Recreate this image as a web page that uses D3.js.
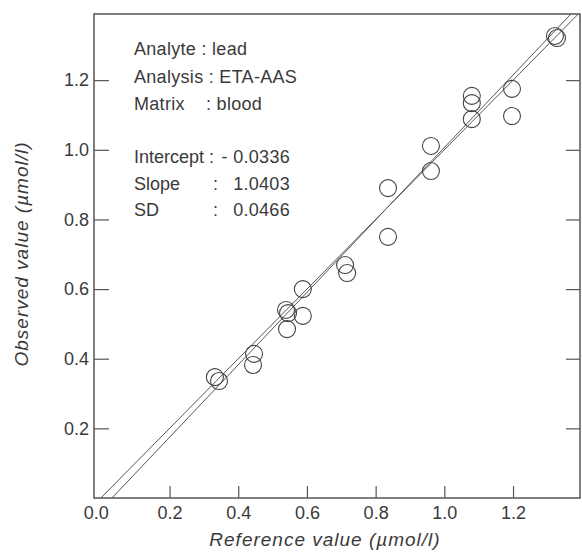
<!DOCTYPE html>
<html>
<head>
<meta charset="utf-8">
<script src="https://cdn.jsdelivr.net/npm/d3@7"></script>
<style>
body{margin:0;background:#fff;}
svg{display:block;font-family:"Liberation Sans",Arial,sans-serif;}
.tick text{font-size:18px;fill:#3a3a3a;}
</style>
</head>
<body>
<svg id="chart" width="582" height="552"></svg>
<script>
var refValues=[0.332,0.344,0.446,0.443,0.539,0.545,0.542,0.588,0.588,0.711,0.717,0.836,0.836,0.961,0.961,1.080,1.080,1.080,1.197,1.197,1.322,1.328];
var obsValues=[0.347,0.336,0.414,0.382,0.540,0.531,0.485,0.600,0.523,0.669,0.646,0.890,0.750,1.011,0.939,1.155,1.134,1.088,1.175,1.097,1.327,1.321];
var xTicks=[0,0.2,0.4,0.6,0.8,1.0,1.2];
var yTicks=[0.2,0.4,0.6,0.8,1.0,1.2];
var infoLines=["Analyte : lead","Analysis : ETA-AAS","Matrix    : blood"];
var statLabels=["Intercept","Slope","SD"];
var statValues=["- 0.0336","1.0403","0.0466"];
var intercept=-0.0336, slope=1.0403;

var svg=d3.select("#chart");
var plotL=94,plotR=580,plotT=14,plotB=498;

var x=d3.scaleLinear().domain([-0.02,1.395]).range([plotL,plotR]);
var y=d3.scaleLinear().domain([0,1.39]).range([plotB,plotT]);
var fmt=d3.format(".1f");

svg.append("clipPath").attr("id","plotClip")
	.append("rect").attr("x",plotL).attr("y",plotT).attr("width",plotR-plotL).attr("height",plotB-plotT);

//axes
var xAxis=svg.append("g")
	.attr("transform","translate(0,"+plotB+")")
	.call(d3.axisBottom(x).tickValues(xTicks).tickFormat(fmt).tickSize(-12).tickPadding(8));
xAxis.selectAll(".tick line").filter(function(d){return d===0;}).remove();
xAxis.selectAll(".tick text").filter(function(d){return d===0;}).attr("dx",-5);

svg.append("g")
	.attr("transform","translate("+plotL+",0)")
	.call(d3.axisLeft(y).tickValues(yTicks).tickFormat(fmt).tickSize(-15).tickPadding(5));

svg.append("g")
	.attr("transform","translate("+plotR+",0)")
	.call(d3.axisRight(y).tickValues(yTicks).tickFormat("").tickSize(-14));

svg.selectAll(".domain").remove();
svg.selectAll(".tick line").attr("stroke","#555").attr("stroke-width",1.2);

//frame
svg.append("rect")
	.attr("x",plotL).attr("y",plotT).attr("width",plotR-plotL).attr("height",plotB-plotT)
	.attr("fill","none").attr("stroke","#555").attr("stroke-width",1.5);

//identity and regression lines
var lines=svg.append("g").attr("clip-path","url(#plotClip)");
var xs=x.domain();
lines.append("line")
	.attr("x1",x(xs[0])).attr("y1",y(xs[0]))
	.attr("x2",x(xs[1])).attr("y2",y(xs[1]))
	.attr("stroke","#555").attr("stroke-width",1);
lines.append("line")
	.attr("x1",x(xs[0])).attr("y1",y(intercept+slope*xs[0]))
	.attr("x2",x(xs[1])).attr("y2",y(intercept+slope*xs[1]))
	.attr("stroke","#555").attr("stroke-width",1);

//points
svg.append("g").selectAll("circle")
	.data(refValues)
	.enter().append("circle")
	.attr("cx",function(d){return x(d);})
	.attr("cy",function(d,i){return y(obsValues[i]);})
	.attr("r",8.5)
	.attr("fill","none")
	.attr("stroke","#444")
	.attr("stroke-width",1.1);

//info text
var info=svg.append("g").attr("font-size",18).attr("fill","#3a3a3a");
info.selectAll(".infoLine")
	.data(infoLines)
	.enter().append("text")
	.attr("class","infoLine")
	.attr("x",134)
	.attr("y",function(d,i){return 55+i*27.5;})
	.style("white-space","pre")
	.style("letter-spacing","0.3px")
	.text(function(d){return d;});

statLabels.forEach(function(lbl,i){
	var yy=163+i*26.5;
	info.append("text").attr("x",134).attr("y",yy).text(lbl);
	info.append("text").attr("x",i===0?209:213).attr("y",yy).text(":");
	info.append("text").attr("x",290).attr("y",yy).attr("text-anchor","end")
		.style("letter-spacing","0.3px").text(statValues[i]);
});

//axis titles
svg.append("text")
	.attr("x",325).attr("y",546)
	.attr("text-anchor","middle")
	.attr("font-size",19).attr("font-style","italic").attr("fill","#3a3a3a")
	.style("letter-spacing","1px")
	.text("Reference value (\u00b5mol/l)");

svg.append("text")
	.attr("transform","translate(28,254) rotate(-90)")
	.attr("text-anchor","middle")
	.attr("font-size",19).attr("font-style","italic").attr("fill","#3a3a3a")
	.style("letter-spacing","1px")
	.text("Observed value (\u00b5mol/l)");
</script>
</body>
</html>
